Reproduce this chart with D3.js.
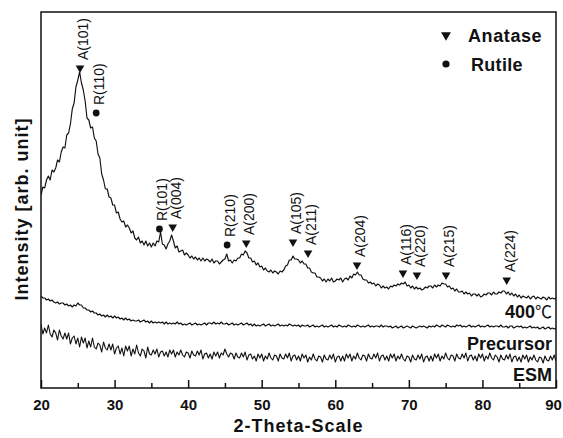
<!DOCTYPE html>
<html>
<head>
<meta charset="utf-8">
<script src="https://cdn.jsdelivr.net/npm/d3@7"></script>
<style>
  html, body { margin: 0; padding: 0; background: #fff; }
  svg { display: block; font-family: "Liberation Sans", Arial, sans-serif; }
</style>
</head>
<body>
<svg id="chart" width="563" height="438"></svg>
<script>
// ---------------- DATA ----------------
// 2-theta grid: 20 .. 90 in steps of 0.25 degrees
const twoTheta = d3.range(0, 281).map(i => 20 + i * 0.25);

// Intensity (arb. unit)
const series400C = [
  193,201,200,208, 212,208,218,216, 220,228,226,236, 241,240,253,255,
  264,279,285,301, 308,316,305,298, 287,270,268,260, 261,250,247,234,
  230,214,208,199, 199,191,190,183, 183,175,176,169, 166,167,161,163,
  160,155,157,150, 148,151,145,147, 143,147,142,145, 141,145,142,147,
  146,156,144,143, 139,144,147,153, 147,140,142,136, 137,138,133,135,
  133,130,132,129, 131,128,130,127, 130,127,129,128, 126,129,125,127,
  127,124,126,128, 129,134,127,128, 125,128,127,130, 130,134,133,137,
  135,130,130,126, 127,123,125,121, 122,118,120,117, 116,118,115,117,
  116,114,117,116, 118,122,123,128, 128,132,129,129, 128,125,127,124,
  124,120,120,116, 115,115,111,111, 110,107,109,106, 109,107,110,106,
  107,109,108,110, 106,109,110,108, 112,110,114,113, 116,113,113,109,
  108,108,105,106, 104,105,102,104, 103,100,102,100, 101,99,102,101,
  103,102,104,103, 105,104,106,102, 103,100,102,99, 101,99,100,98,
  99,101,100,102, 102,100,103,101, 103,102,105,104, 104,101,102,99,
  100,97,99,96, 96,97,94,96, 94,95,92,94, 94,92,94,91,
  92,94,93,95, 95,93,96,94, 94,96,95,97, 97,94,96,93,
  95,92,94,91, 93,90,92,91, 90,92,89,91, 92,89,91,90,
  89,91,90,88, 91,89,90,89, 90
];

const seriesPrecursor = [
  92,90,90,88, 89,87,88,86, 85,86,84,85, 85,83,84,82,
  83,81,83,82, 85,83,83,80, 80,78,78,76, 77,75,75,73,
  74,72,73,71, 73,71,72,70, 72,70,71,69, 70,68,70,68,
  69,67,68,67, 67,68,66,67, 68,66,67,65, 67,65,66,65,
  66,65,66,64, 66,64,65,64, 65,64,66,64, 65,63,64,63,
  64,65,63,64, 65,63,64,63, 64,65,63,65, 65,64,66,64,
  65,64,66,64, 64,65,63,64, 65,63,64,63, 64,65,63,64,
  65,63,64,62, 64,62,63,62, 63,64,62,63, 64,62,63,62,
  63,64,62,63, 62,63,62,64, 63,62,63,62, 63,61,63,62,
  62,63,61,62, 63,61,62,61, 62,63,61,62, 61,62,63,61,
  62,61,63,62, 61,62,61,63, 62,61,62,61, 63,62,61,62,
  61,62,63,61, 62,61,62,62, 61,63,61,62, 62,61,62,60,
  61,62,60,61, 62,60,61,62, 61,60,62,61, 60,61,62,61,
  62,61,60,62, 61,62,61,63, 62,61,63,62, 61,63,62,61,
  62,61,63,62, 63,61,62,61, 62,63,61,62, 61,62,63,61,
  62,61,62,63, 61,62,61,62, 62,61,63,61, 61,62,60,62,
  62,60,61,62, 61,62,60,61, 60,61,62,60, 61,60,61,59,
  60,61,59,60, 61,59,60,59, 60
];

const seriesESM = [
  64,54,60,55, 63,54,51,58, 55,48,58,52, 49,55,49,55,
  44,50,52,44, 50,41,51,45, 50,40,47,41, 50,41,39,45,
  43,36,46,40, 38,44,38,44, 34,40,42,34, 40,32,42,37,
  42,32,39,34, 43,35,32,39, 37,30,41,34, 33,38,34,39,
  31,36,37,32, 36,31,38,34, 38,31,36,33, 38,33,31,36,
  35,30,37,33, 32,37,33,38, 29,34,35,30, 34,29,36,32,
  36,30,35,33, 39,34,31,35, 34,29,35,31, 30,35,31,36,
  28,33,34,29, 32,27,34,30, 34,27,32,29, 35,30,28,33,
  32,27,34,30, 29,34,30,35, 27,32,33,28, 32,27,34,30,
  33,26,31,28, 34,29,27,32, 31,26,33,29, 28,33,29,34,
  26,31,32,27, 32,27,34,30, 34,27,32,29, 35,30,28,33,
  32,27,34,30, 29,34,30,35, 27,32,33,28, 32,27,34,30,
  34,27,32,29, 34,29,27,32, 31,26,33,29, 28,33,29,34,
  26,31,32,27, 32,27,34,30, 34,27,32,29, 35,30,28,33,
  32,27,34,30, 29,34,30,35, 27,32,33,28, 32,27,34,30,
  34,27,32,29, 35,30,28,33, 31,26,33,29, 28,33,29,34,
  26,31,32,27, 31,26,33,29, 33,26,31,28, 33,28,26,31,
  30,25,32,28, 27,32,28,33, 27
];

const seriesNames = ["400\u2103", "Precursor", "ESM"];

// Peak annotations
const peakLabels  = ["A(101)","R(110)","R(101)","A(004)","R(210)","A(200)","A(105)","A(211)","A(204)","A(116)","A(220)","A(215)","A(224)"];
const peakAngles  = [25.3, 27.5, 36.1, 37.9, 45.3, 47.9, 54.25, 56.3, 62.95, 69.2, 71.1, 75.05, 83.3];
const peakPhase   = ["A","R","R","A","R","A","A","A","A","A","A","A","A"];
const peakMarkerI = [320, 275, 159, 161, 143, 145, 146, 135, 123, 115, 113, 113, 108];

const legendLabels = ["Anatase", "Rutile"];
const legendPhase  = ["A", "R"];

const xTicksMajor = [20, 30, 40, 50, 60, 70, 80, 90];
const xTicksMinor = [25, 35, 45, 55, 65, 75, 85];

const xTitle = "2-Theta-Scale";
const yTitle = "Intensity [arb. unit]";

// ---------------- CHART ----------------
const svg = d3.select("#chart");
const L = 41, R = 556, T = 12, B = 388;
const font = "'Liberation Sans', Arial, sans-serif";

const x = d3.scaleLinear().domain([20, 90]).range([L, R]);
const y = d3.scaleLinear().domain([0, 376]).range([B, T]);

svg.append("defs").append("clipPath").attr("id", "plotclip")
  .append("rect").attr("x", L).attr("y", T).attr("width", R - L).attr("height", B - T);

const line = d3.line()
  .x((d, i) => x(twoTheta[i]))
  .y(d => y(d));

const plot = svg.append("g").attr("clip-path", "url(#plotclip)");
[seriesESM, seriesPrecursor, series400C].forEach((s, k) => {
  plot.append("path")
    .attr("d", line(s))
    .attr("fill", "none")
    .attr("stroke", "#111")
    .attr("stroke-width", k === 0 ? 1.1 : 1.15)
    .attr("stroke-linejoin", "round");
});

// Axes (ticks pointing inward)
const axMajor = d3.axisBottom(x).tickValues(xTicksMajor).tickSize(-8).tickPadding(11).tickFormat(d3.format("d"));
const gx = svg.append("g").attr("transform", `translate(0,${B})`).call(axMajor);
gx.select(".domain").remove();
gx.selectAll(".tick line").attr("stroke", "#111").attr("stroke-width", 1.5);
gx.selectAll(".tick text")
  .attr("font-family", font).attr("font-size", 15).attr("font-weight", "bold").attr("fill", "#111")
  .attr("dx", d => d === 90 ? -3 : 0);

const axMinor = d3.axisBottom(x).tickValues(xTicksMinor).tickSize(-5).tickFormat("");
const gm = svg.append("g").attr("transform", `translate(0,${B})`).call(axMinor);
gm.select(".domain").remove();
gm.selectAll(".tick line").attr("stroke", "#111").attr("stroke-width", 1.5);

// Frame
svg.append("rect")
  .attr("x", L).attr("y", T).attr("width", R - L).attr("height", B - T)
  .attr("fill", "none").attr("stroke", "#111").attr("stroke-width", 1.5);

// Axis titles
svg.append("text")
  .attr("x", (L + R) / 2).attr("y", 432)
  .attr("text-anchor", "middle")
  .attr("font-family", font).attr("font-size", 18).attr("font-weight", "bold")
  .attr("letter-spacing", 1).attr("fill", "#111")
  .text(xTitle);

svg.append("text")
  .attr("transform", "translate(28,209) rotate(-90)")
  .attr("text-anchor", "middle")
  .attr("font-family", font).attr("font-size", 18).attr("font-weight", "bold")
  .attr("letter-spacing", 1).attr("fill", "#111")
  .text(yTitle);

// Markers
const triSym = d3.symbol().type(d3.symbolTriangle);
function drawMarker(g, phase, cx, cy, big) {
  if (phase === "A") {
    g.append("path")
      .attr("d", triSym.size(big ? 42 : 32)())
      .attr("transform", `translate(${cx},${cy}) rotate(180)`)
      .attr("fill", "#111");
  } else {
    g.append("circle").attr("cx", cx).attr("cy", cy).attr("r", big ? 3.6 : 3.4).attr("fill", "#111");
  }
}

const ann = svg.append("g");
peakLabels.forEach((lab, i) => {
  const px = x(peakAngles[i]);
  const py = y(peakMarkerI[i]);
  drawMarker(ann, peakPhase[i], px, py, false);
  ann.append("text")
    .attr("transform", `translate(${px + 3},${py - 8}) rotate(-90)`)
    .attr("text-anchor", "start")
    .attr("dominant-baseline", "central")
    .attr("font-family", font).attr("font-size", 14).attr("fill", "#111")
    .text(lab);
});

// Legend
const leg = svg.append("g");
legendLabels.forEach((lab, i) => {
  const cy = 35 + i * 29;
  drawMarker(leg, legendPhase[i], 446, cy, true);
  leg.append("text")
    .attr("x", legendPhase[i] === "A" ? 468 : 471).attr("y", cy + 6.5)
    .attr("font-family", font).attr("font-size", 18).attr("font-weight", "bold")
    .attr("letter-spacing", legendPhase[i] === "A" ? 0.6 : 0.3)
    .attr("fill", "#111")
    .text(lab);
});

// Curve labels
const labelBaselines = [318, 350, 381];
seriesNames.forEach((name, i) => {
  const t = svg.append("text")
    .attr("x", 552).attr("y", labelBaselines[i])
    .attr("text-anchor", "end")
    .attr("font-family", font).attr("font-size", 18).attr("font-weight", "bold")
    .attr("fill", "#111");
  if (name.endsWith("\u2103")) {
    t.append("tspan").text(name.slice(0, -1));
    t.append("tspan")
      .attr("font-weight", "normal")
      .attr("font-family", "'Noto Sans CJK SC', 'DejaVu Sans', sans-serif")
      .attr("font-size", 17)
      .text("\u2103");
  } else {
    t.text(name);
  }
});
</script>
</body>
</html>
